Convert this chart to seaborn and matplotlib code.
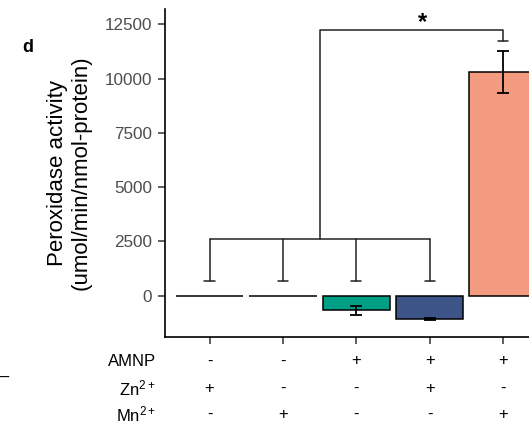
import numpy as np
import pandas as pd
import seaborn as sns
import matplotlib.pyplot as plt
import matplotlib.transforms as mtransforms

# datos
grupos = ['Zn', 'Mn', 'AMNP', 'AMNP+Zn', 'AMNP+Mn']
actividad = [0, 0, -680, -1070, 10300]
desv = [0, 0, 210, 40, 970]
colores = ['#E64B35', '#4DBBD5', '#00A087', '#3C5488', '#F39B7F']
fila_amnp = ['-', '-', '+', '+', '+']
fila_zn = ['+', '-', '-', '+', '-']
fila_mn = ['-', '+', '-', '-', '+']
# brackets de significancia
sig_bajo = 2610
sig_bajo_pie = 658
sig_alto = 12250
sig_alto_pie = 11710

sns.set_style('white')
plt.rcParams['font.family'] = ['Liberation Sans', 'DejaVu Sans']
plt.rcParams['mathtext.fontset'] = 'custom'
plt.rcParams['mathtext.rm'] = 'Liberation Sans'
plt.rcParams['mathtext.default'] = 'regular'

df = pd.DataFrame({'grupo': grupos, 'actividad': actividad, 'sd': desv})

fig = plt.figure(figsize=(5.29, 4.30), dpi=100)
# el eje sigue mas alla del borde derecho (figura recortada)
ax = fig.add_axes([164.5/529, 92.7/430, 412/529, 328.3/430])

sns.barplot(data=df, x='grupo', y='actividad', hue='grupo', palette=colores,
            saturation=1, width=0.92, edgecolor='black', linewidth=1.1,
            errorbar=None, legend=False, ax=ax)
xs = np.arange(len(grupos))
ax.errorbar(xs[2:], df['actividad'][2:], yerr=df['sd'][2:], fmt='none',
            ecolor='black', elinewidth=1.3, capsize=4, capthick=1.3, zorder=5)

# brackets
lc = '#222222'
for x in xs[:4]:
    ax.plot([x, x], [sig_bajo_pie, sig_bajo], color=lc, lw=1.1)
    ax.plot([x - 0.07, x + 0.07], [sig_bajo_pie, sig_bajo_pie], color=lc, lw=1.1)
ax.plot([0, 3], [sig_bajo, sig_bajo], color=lc, lw=1.1)
ax.plot([1.5, 1.5, 4, 4], [sig_bajo, sig_alto, sig_alto, sig_alto_pie], color=lc, lw=1.1)
ax.plot([3.93, 4.07], [sig_alto_pie, sig_alto_pie], color=lc, lw=1.1)
ax.text(2.9, sig_alto - 200, '*', ha='center', va='bottom', fontsize=17,
        fontweight='bold', color='black')

ax.set_xlim(-0.614, 5.0)
ax.set_ylim(-1915, 13200)
ax.set_yticks([0, 2500, 5000, 7500, 10000, 12500])
ax.set_xticks(xs)
ax.set_xticklabels([])
ax.set_xlabel('')
ax.set_ylabel('Peroxidase activity\n(umol/min/nmol-protein)', fontsize=16,
              labelpad=9, color='black')
ax.tick_params(axis='y', labelsize=12.3, labelcolor='#4D4D4D', length=5, width=1.1,
               color='#333333', left=True, pad=4)
ax.tick_params(axis='x', length=5, width=1.1, color='#333333', bottom=True)
for s in ['top', 'right']:
    ax.spines[s].set_visible(False)
for s in ['left', 'bottom']:
    ax.spines[s].set_color('black')
    ax.spines[s].set_linewidth(1.2)

# tabla de tratamientos
trans = mtransforms.blended_transform_factory(ax.transData, fig.transFigure)
filas = [('AMNP', fila_amnp), ('Zn$^{2+}$', fila_zn), ('Mn$^{2+}$', fila_mn)]
ys = [1 - 361/430, 1 - 388/430, 1 - 414/430]
for (nombre, signos), y in zip(filas, ys):
    fig.text(156/529, y, nombre, ha='right', va='center', fontsize=12, color='black')
    for x, s in zip(xs, signos):
        ax.text(x, y, s, transform=trans, ha='center', va='center', fontsize=12,
                color='black')

fig.text(22/529, 1 - 47/430, 'd', fontsize=13, fontweight='bold', ha='left',
         va='center', color='black')
fig.text(0, 1 - 377/430, '–', fontsize=12, ha='left', va='center', color='black')

fig.savefig('out.png', dpi=100)
